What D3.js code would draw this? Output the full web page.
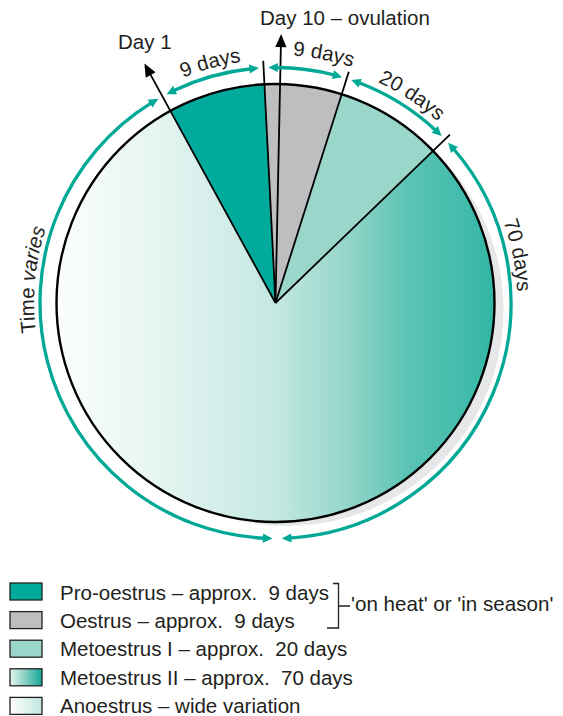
<!DOCTYPE html>
<html>
<head>
<meta charset="utf-8">
<script src="https://cdn.jsdelivr.net/npm/d3@7/dist/d3.min.js"></script>
<style>
  html, body { margin: 0; padding: 0; background: #fff; }
  svg { display: block; font-family: "Liberation Sans", Arial, Helvetica, sans-serif; }
  text { fill: #231f20; }
</style>
</head>
<body>
<svg id="chart" width="563" height="716"></svg>
<script>
// ---- data -------------------------------------------------------------
// Phases of the oestrous cycle, clockwise from Day 1
const phases = ["Pro-oestrus", "Oestrus", "Metoestrus I", "Metoestrus II", "Anoestrus"];
// angular share of the wheel given to each phase (degrees)
const phaseSpan = [25.8, 20.5, 28.4, 133.6, 151.7];
// duration labels written along the outer arrows
const durationLabels = ["9 days", "9 days", "20 days", "70 days", "Time varies"];
const legendLabels = [
  "Pro-oestrus – approx.  9 days",
  "Oestrus – approx.  9 days",
  "Metoestrus I – approx.  20 days",
  "Metoestrus II – approx.  70 days",
  "Anoestrus – wide variation"
];
const bracketLabel = "'on heat' or 'in season'";
const markerLabels = ["Day 1", "Day 10 – ovulation"];
// ovulation marker: degrees past the start of Oestrus
const ovulationOffset = 4.1;

// ---- layout ---------------------------------------------------------------
const cx = 275.5, cy = 303, R = 219;
const startDeg = -28.7;            // Day 1 direction, clockwise from 12 o'clock
const arrowR = 235.5, gapDeg = 1.15, headLen = 9.5, headHalf = 4.6;
const tickR = 242.5;
const labelCenterDeg = [-15.2, 11.0, 33.3, 78.8, 275.5];
const labelBaseR = [243.5, 248, 243.5, 242, 241.5];
const teal = "#00a896";
const phaseFill = ["#00ab9c", "#bcbec0", "#9bd6cb", "url(#wheelGrad)", "url(#wheelGrad)"];
const legendFill = ["#00ab9c", "#bcbec0", "#9bd6cb", "url(#legM2)", "url(#legAn)"];

const rad = d => d * Math.PI / 180;
const pt = (theta, r) => [cx + r * Math.sin(theta), cy - r * Math.cos(theta)];

const svg = d3.select("#chart");
const defs = svg.append("defs");

// horizontal wash across the wheel (wheel-local coordinates): white left, teal right
const wheelGrad = defs.append("linearGradient").attr("id", "wheelGrad")
  .attr("gradientUnits", "userSpaceOnUse")
  .attr("x1", -R).attr("y1", 0).attr("x2", R).attr("y2", 0);
[[0, "#fbfefd"], [0.22, "#e6f5f2"], [0.5, "#c4e8e1"], [0.66, "#95d6ca"],
 [0.8, "#5cc4b5"], [1, "#33b6a5"]]
  .forEach(([o, c]) => wheelGrad.append("stop").attr("offset", o).attr("stop-color", c));

const legM2 = defs.append("linearGradient").attr("id", "legM2");
[[0, "#e2f4f0"], [0.45, "#8dd2c5"], [1, "#12a797"]]
  .forEach(([o, c]) => legM2.append("stop").attr("offset", o).attr("stop-color", c));
const legAn = defs.append("linearGradient").attr("id", "legAn");
[[0, "#ffffff"], [1, "#c0e6de"]]
  .forEach(([o, c]) => legAn.append("stop").attr("offset", o).attr("stop-color", c));

// ---- wheel ----------------------------------------------------------------
const pie = d3.pie().sort(null).value(d => d)
  .startAngle(rad(startDeg)).endAngle(rad(startDeg) + 2 * Math.PI);
const slices = pie(phaseSpan);
const arc = d3.arc().innerRadius(0).outerRadius(R);

// drop shadow
svg.append("circle").attr("cx", cx + 12).attr("cy", cy + 7).attr("r", R - 3)
  .attr("fill", "#e6e7e8");

const wheel = svg.append("g").attr("transform", `translate(${cx},${cy})`);
// base disc so the two gradient phases join without a seam
wheel.append("circle").attr("r", R).attr("fill", "url(#wheelGrad)");
wheel.selectAll("path.slice").data(slices).join("path")
  .attr("class", "slice")
  .attr("d", arc)
  .attr("fill", (d, i) => phaseFill[i]);

// phase boundaries (Metoestrus II runs into Anoestrus without a line)
const boundaries = slices.slice(1, 4).map(d => d.startAngle);
svg.selectAll("line.boundary").data(boundaries).join("line")
  .attr("class", "boundary")
  .attr("x1", cx).attr("y1", cy)
  .attr("x2", d => pt(d, tickR)[0]).attr("y2", d => pt(d, tickR)[1])
  .attr("stroke", "#000").attr("stroke-width", 1.8);

svg.append("circle").attr("cx", cx).attr("cy", cy).attr("r", R)
  .attr("fill", "none").attr("stroke", "#000").attr("stroke-width", 2.4);

// ---- Day markers ------------------------------------------------------------
const markerAngles = [slices[0].startAngle, slices[1].startAngle + rad(ovulationOffset)];
const markerTipR = [273, 269];
markerAngles.forEach((a, i) => {
  const tip = pt(a, markerTipR[i]);
  const base = pt(a, markerTipR[i] - 13);
  svg.append("line").attr("x1", cx).attr("y1", cy)
    .attr("x2", base[0]).attr("y2", base[1])
    .attr("stroke", "#000").attr("stroke-width", 1.8);
  const nx = Math.cos(a) * 5.6, ny = Math.sin(a) * 5.6;
  svg.append("path")
    .attr("d", `M${tip[0]},${tip[1]}L${base[0] + nx},${base[1] + ny}L${base[0] - nx},${base[1] - ny}Z`)
    .attr("fill", "#000");
});
svg.append("text").attr("x", 118).attr("y", 49).attr("font-size", 20.5).text(markerLabels[0]);
svg.append("text").attr("x", 260).attr("y", 25).attr("font-size", 20.5).text(markerLabels[1]);

// ---- duration arrows around the rim -------------------------------------------
function arrowHead(theta, dir) {
  // dir = +1 points clockwise, -1 counter-clockwise
  const tip = pt(theta, arrowR);
  const b = theta - dir * headLen / arrowR;
  const p1 = pt(b, arrowR + headHalf), p2 = pt(b, arrowR - headHalf);
  return `M${tip[0]},${tip[1]}L${p1[0]},${p1[1]}L${p2[0]},${p2[1]}Z`;
}
const arrows = svg.append("g");
slices.forEach((d, i) => {
  const a0 = d.startAngle + rad(gapDeg), a1 = d.endAngle - rad(gapDeg);
  const s0 = a0 + headLen * 0.8 / arrowR, s1 = a1 - headLen * 0.8 / arrowR;
  const p = d3.path();
  p.arc(cx, cy, arrowR, s0 - Math.PI / 2, s1 - Math.PI / 2);
  arrows.append("path").attr("d", p.toString())
    .attr("fill", "none").attr("stroke", teal).attr("stroke-width", 3.3);
  arrows.append("path").attr("d", arrowHead(a0, -1)).attr("fill", teal);
  arrows.append("path").attr("d", arrowHead(a1, 1)).attr("fill", teal);
});

// duration labels set along clockwise arcs
durationLabels.forEach((lab, i) => {
  const c = rad(labelCenterDeg[i]), span = rad(60), r = labelBaseR[i];
  const a = pt(c - span, r), b = pt(c + span, r);
  defs.append("path").attr("id", "lab" + i)
    .attr("d", `M${a[0]},${a[1]}A${r},${r} 0 0 1 ${b[0]},${b[1]}`);
  const t = svg.append("text").attr("font-size", 20.5)
    .append("textPath").attr("href", "#lab" + i)
    .attr("startOffset", "50%").attr("text-anchor", "middle");
  if (lab === "Time varies") {
    t.append("tspan").text("Time ");
    t.append("tspan").attr("font-style", "italic").text("varies");
  } else {
    t.text(lab);
  }
});

// ---- legend -------------------------------------------------------------------
const legend = svg.append("g");
const rowStep = 28.6;
legend.selectAll("rect").data(phases).join("rect")
  .attr("x", 10).attr("y", (d, i) => 583 + i * rowStep)
  .attr("width", 32).attr("height", 17)
  .attr("fill", (d, i) => legendFill[i])
  .attr("stroke", "#231f20").attr("stroke-width", 1.3);
legend.selectAll("text").data(legendLabels).join("text")
  .attr("x", 60).attr("y", (d, i) => 599.5 + i * 28.4)
  .attr("font-size", 20.5).style("white-space", "pre")
  .text(d => d);

// bracket grouping the two "on heat" phases
legend.append("path")
  .attr("d", "M333,583.5H338.5V628H327M338.5,606H350")
  .attr("fill", "none").attr("stroke", "#231f20").attr("stroke-width", 1.3);
legend.append("text").attr("x", 351).attr("y", 611).attr("font-size", 20.6).text(bracketLabel);
</script>
</body>
</html>
